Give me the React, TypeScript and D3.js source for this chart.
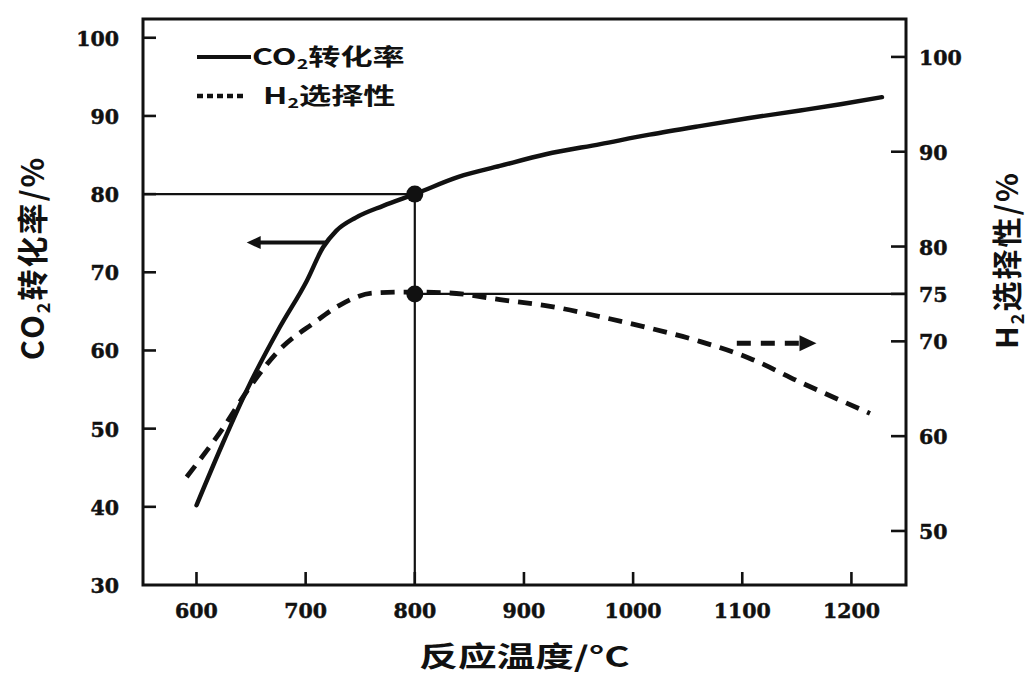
import * as d3 from 'd3'
import React from 'react'

// CO2 conversion (solid, left axis)
const convTemp = [600, 624, 646, 676, 701, 716, 728, 746, 771, 800, 840, 878, 920, 970, 1015, 1061, 1105, 1153, 1190, 1228]
const convRate = [40.2, 48.1, 54.9, 62.9, 68.9, 73.2, 75.3, 77.0, 78.5, 80.0, 82.2, 83.6, 85.1, 86.4, 87.6, 88.7, 89.7, 90.7, 91.5, 92.4]

// H2 selectivity (dashed, right axis)
const selTemp = [591, 624, 649, 676, 707, 731, 762, 795, 832, 878, 924, 970, 1015, 1061, 1107, 1153, 1217]
const selRate = [55.7, 60.8, 65.2, 69.1, 71.9, 73.8, 75.1, 75.2, 75.1, 74.4, 73.7, 72.6, 71.4, 70.0, 68.2, 65.7, 62.4]

const xTicks = [600, 700, 800, 900, 1000, 1100, 1200]
const leftTicks = [30, 40, 50, 60, 70, 80, 90, 100]
const rightTicks = [50, 60, 70, 75, 80, 90, 100]

// marked operating point
const markTemp = 800
const markConv = 80
const markSel = 75

// arrows pointing at each curve's axis
const convArrow = { from: 719, to: 646, value: 73.8 }
const selArrow = { from: 1095, to: 1168, value: 69.8 }

const W = 1029
const H = 681
const margin = { left: 143, right: 123, top: 19, bottom: 96 }

const NUM_FONT = '"DejaVu Serif", serif'
const CJK_FONT = '"Noto Sans CJK SC", "Noto Sans", sans-serif'

const numProps = {
  fontFamily: NUM_FONT,
  fontWeight: 'bold',
  fontSize: 20.5,
  fill: '#111',
  stroke: '#111',
  strokeWidth: 0.5,
}

export default function App() {
  const x0 = margin.left
  const x1 = W - margin.right
  const y0 = H - margin.bottom
  const y1 = margin.top

  const x = d3.scaleLinear().domain([551, 1250]).range([x0, x1])
  const yL = d3.scaleLinear().domain([30, 102.4]).range([y0, y1])
  const yR = d3.scaleLinear().domain([44.3, 104.0]).range([y0, y1])

  const convLine = d3
    .line<number>()
    .x((d, i) => x(convTemp[i]))
    .y(d => yL(d))
    .curve(d3.curveMonotoneX)
  const selLine = d3
    .line<number>()
    .x((d, i) => x(selTemp[i]))
    .y(d => yR(d))
    .curve(d3.curveMonotoneX)

  const tick = 13
  const mx = x(markTemp)
  const myL = yL(markConv)
  const myR = yR(markSel)

  const ayL = yL(convArrow.value)
  const ayR = yR(selArrow.value)
  const lTip = x(convArrow.to)
  const rTip = x(selArrow.to)

  return (
    <svg
      width={W}
      height={H}
      style={{ position: 'absolute', left: 0, top: 0, background: '#fff' }}
    >
      <rect width={W} height={H} fill="#fff" />

      {/* reference lines */}
      <line x1={x0} x2={mx} y1={myL} y2={myL} stroke="#111" strokeWidth={2.2} />
      <line x1={mx} x2={x1} y1={myR} y2={myR} stroke="#111" strokeWidth={2.2} />
      <line x1={mx} x2={mx} y1={myL} y2={y0} stroke="#111" strokeWidth={2.2} />

      {/* curves */}
      <path d={convLine(convRate) || ''} fill="none" stroke="#111" strokeWidth={4.4} strokeLinecap="round" />
      <path
        d={selLine(selRate) || ''}
        fill="none"
        stroke="#111"
        strokeWidth={4.8}
        strokeDasharray="14 9"
      />

      <circle cx={mx} cy={myL} r={8.5} fill="#111" />
      <circle cx={mx} cy={myR} r={8.5} fill="#111" />

      {/* arrows */}
      <line x1={x(convArrow.from)} x2={lTip + 10} y1={ayL} y2={ayL} stroke="#111" strokeWidth={4} />
      <path d={`M${lTip},${ayL} L${lTip + 14},${ayL - 6.5} L${lTip + 14},${ayL + 6.5} Z`} fill="#111" />
      <line
        x1={x(selArrow.from)}
        x2={rTip - 12}
        y1={ayR}
        y2={ayR}
        stroke="#111"
        strokeWidth={5}
        strokeDasharray="14 10"
      />
      <path d={`M${rTip},${ayR} L${rTip - 17},${ayR - 8} L${rTip - 17},${ayR + 8} Z`} fill="#111" />

      {/* frame */}
      <rect x={x0} y={y1} width={x1 - x0} height={y0 - y1} fill="none" stroke="#111" strokeWidth={3} />

      {/* x axis */}
      {xTicks.map(t => (
        <g key={'x' + t}>
          <line x1={x(t)} x2={x(t)} y1={y0} y2={y0 - tick} stroke="#111" strokeWidth={2.6} />
          <text x={x(t)} y={y0 + 33} textAnchor="middle" {...numProps}>
            {t}
          </text>
        </g>
      ))}

      {/* left axis */}
      {leftTicks.map(t => (
        <g key={'l' + t}>
          {t > 30 && <line x1={x0} x2={x0 + tick} y1={yL(t)} y2={yL(t)} stroke="#111" strokeWidth={2.6} />}
          <text x={x0 - 24} y={yL(t) + 8} textAnchor="end" {...numProps}>
            {t}
          </text>
        </g>
      ))}

      {/* right axis */}
      {rightTicks.map(t => (
        <g key={'r' + t}>
          <line x1={x1} x2={x1 - tick - 2} y1={yR(t)} y2={yR(t)} stroke="#111" strokeWidth={2.6} />
          <text x={x1 + 13} y={yR(t) + 8} textAnchor="start" {...numProps}>
            {t}
          </text>
        </g>
      ))}

      {/* axis titles */}
      <text
        transform={`translate(${(x0 + x1) / 2},667) scale(1.38,1)`}
        textAnchor="middle"
        fontFamily={CJK_FONT}
        fontWeight="bold"
        fontSize={28}
        fill="#111"
      >
        反应温度/°C
      </text>
      <text
        transform="translate(44,258) rotate(-90)"
        textAnchor="middle"
        fontFamily={CJK_FONT}
        fontWeight="bold"
        fontSize={31}
        letterSpacing={2}
        fill="#111"
      >
        CO<tspan fontSize={18} dy={6}>2</tspan>
        <tspan dy={-6}>转化率/%</tspan>
      </text>
      <text
        transform="translate(1018,260) rotate(-90)"
        textAnchor="middle"
        fontFamily={CJK_FONT}
        fontWeight="bold"
        fontSize={30}
        letterSpacing={2}
        fill="#111"
      >
        H<tspan fontSize={18} dy={6}>2</tspan>
        <tspan dy={-6}>选择性/%</tspan>
      </text>

      {/* legend */}
      <line x1={197} x2={251} y1={57} y2={57} stroke="#111" strokeWidth={4} />
      <text
        transform="translate(252,65) scale(1.4,1)"
        fontFamily={CJK_FONT}
        fontWeight="bold"
        fontSize={23}
        fill="#111"
      >
        CO<tspan fontSize={14} dy={4}>2</tspan>
        <tspan dy={-4}>转化率</tspan>
      </text>
      <line x1={197} x2={247} y1={96} y2={96} stroke="#111" strokeWidth={4.5} strokeDasharray="6 4" />
      <text
        transform="translate(263,104) scale(1.4,1)"
        fontFamily={CJK_FONT}
        fontWeight="bold"
        fontSize={23}
        fill="#111"
      >
        H<tspan fontSize={14} dy={4}>2</tspan>
        <tspan dy={-4}>选择性</tspan>
      </text>
    </svg>
  )
}
